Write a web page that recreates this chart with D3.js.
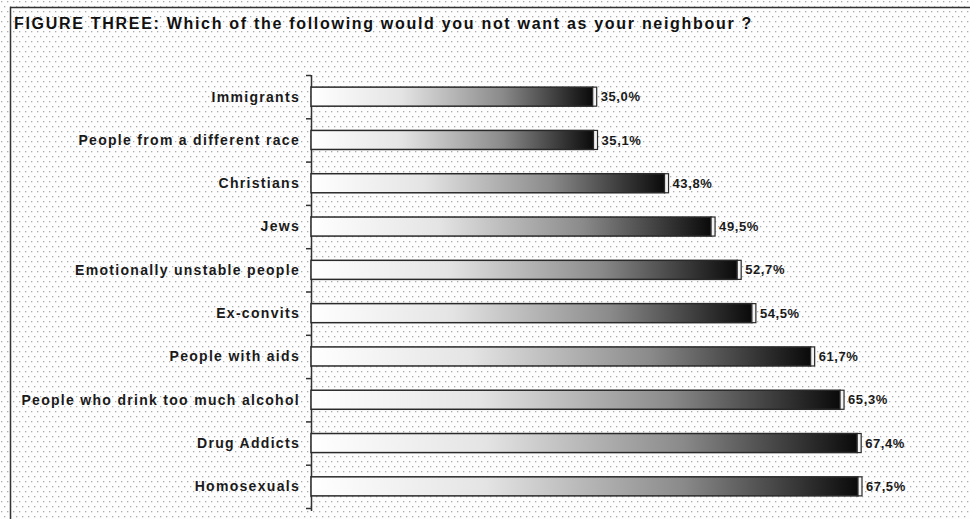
<!DOCTYPE html>
<meta charset="utf-8">
<script src="https://d3js.org/d3.v7.min.js"></script>
<style>
  body { margin: 0; background: #fff; }
  svg { display: block; }
</style>
<body>
<svg id="chart" width="970" height="519"></svg>
<script>
  // data
  var categories = ["Immigrants", "People from a different race", "Christians", "Jews",
    "Emotionally unstable people", "Ex-convits", "People with aids",
    "People who drink too much alcohol", "Drug Addicts", "Homosexuals"];
  var values = [35.0, 35.1, 43.8, 49.5, 52.7, 54.5, 61.7, 65.3, 67.4, 67.5];
  var valueLabels = ["35,0%", "35,1%", "43,8%", "49,5%", "52,7%", "54,5%", "61,7%", "65,3%", "67,4%", "67,5%"];

  var data = categories.map(function(c, i) { return { name: c, value: values[i], label: valueLabels[i] } });

  var svg = d3.select("#chart"),
      width = +svg.attr("width"),
      height = +svg.attr("height");

  var defs = svg.append("defs");

  // dotted background
  var pat = defs.append("pattern")
      .attr("id", "dots")
      .attr("patternUnits", "userSpaceOnUse")
      .attr("width", 6).attr("height", 10);
  pat.append("rect").attr("width", 6).attr("height", 10).attr("fill", "#fdfdfd");
  pat.append("rect").attr("x", 1).attr("y", 1).attr("width", 1.3).attr("height", 1.3).attr("fill", "#ababab");
  pat.append("rect").attr("x", 4).attr("y", 6).attr("width", 1.3).attr("height", 1.3).attr("fill", "#ababab");

  var grad = defs.append("linearGradient").attr("id", "barGrad")
      .attr("x1", "0%").attr("x2", "100%").attr("y1", "0%").attr("y2", "0%");
  grad.append("stop").attr("offset", "0%").attr("stop-color", "#ffffff");
  grad.append("stop").attr("offset", "32%").attr("stop-color", "#e4e4e4");
  grad.append("stop").attr("offset", "68%").attr("stop-color", "#8a8a8a");
  grad.append("stop").attr("offset", "100%").attr("stop-color", "#0a0a0a");

  svg.append("rect").attr("width", width).attr("height", height).attr("fill", "url(#dots)");

  // frame (top and left only are visible)
  svg.append("path")
      .attr("d", "M10.5," + height + "V7.5H" + width)
      .attr("fill", "none").attr("stroke", "#333").attr("stroke-width", 1.5);

  var font = "Arial, 'Liberation Sans', sans-serif";

  // title
  svg.append("text")
      .attr("x", 14).attr("y", 29)
      .style("font-family", font)
      .style("font-weight", "bold")
      .style("font-size", "16px")
      .style("letter-spacing", "1.7px")
      .style("fill", "#111")
      .text("FIGURE THREE: Which of the following would you not want as your neighbour ?");

  var x = d3.scaleLinear().domain([0, 67.5]).range([311, 862]);
  var y = d3.scaleBand().domain(categories).range([75, 508]).paddingInner(0.56).paddingOuter(0.28);

  // axis with ticks between categories
  var axis = svg.append("g");
  axis.append("line")
      .attr("x1", 311.5).attr("x2", 311.5).attr("y1", 75).attr("y2", 511)
      .attr("stroke", "#333").attr("stroke-width", 1.5);
  var bounds = d3.range(categories.length + 1).map(function(i) { return 75 + i * y.step() });
  axis.selectAll("line.tick").data(bounds).enter().append("line")
      .attr("class", "tick")
      .attr("x1", 306).attr("x2", 311)
      .attr("y1", function(d) { return d + 0.5 }).attr("y2", function(d) { return d + 0.5 })
      .attr("stroke", "#333").attr("stroke-width", 1.5);

  // category labels
  svg.append("g").selectAll("text").data(data).enter().append("text")
      .attr("x", 300)
      .attr("y", function(d) { return y(d.name) + y.bandwidth() / 2 })
      .attr("dy", "0.35em")
      .attr("text-anchor", "end")
      .style("font-family", font)
      .style("font-weight", "bold")
      .style("font-size", "14px")
      .style("letter-spacing", "1.3px")
      .style("fill", "#1a1a1a")
      .text(function(d) { return d.name });

  var bars = svg.append("g").selectAll("g").data(data).enter().append("g");

  bars.append("rect")
      .attr("x", x(0))
      .attr("y", function(d) { return y(d.name) })
      .attr("width", function(d) { return x(d.value) - x(0) - 4 })
      .attr("height", y.bandwidth())
      .attr("fill", "url(#barGrad)")
      .attr("stroke", "#2a2a2a")
      .attr("stroke-width", 1.5);

  // 3D end cap
  bars.append("rect")
      .attr("x", function(d) { return x(d.value) - 4 })
      .attr("y", function(d) { return y(d.name) })
      .attr("width", 4)
      .attr("height", y.bandwidth())
      .attr("fill", "#f2f2f2")
      .attr("stroke", "#2a2a2a")
      .attr("stroke-width", 1.2);

  bars.append("text")
      .attr("x", function(d) { return x(d.value) + 4 })
      .attr("y", function(d) { return y(d.name) + y.bandwidth() / 2 })
      .attr("dy", "0.35em")
      .style("font-family", font)
      .style("font-weight", "bold")
      .style("font-size", "13px")
      .style("letter-spacing", "0.6px")
      .style("fill", "#1a1a1a")
      .text(function(d) { return d.label });
</script>
</body>
